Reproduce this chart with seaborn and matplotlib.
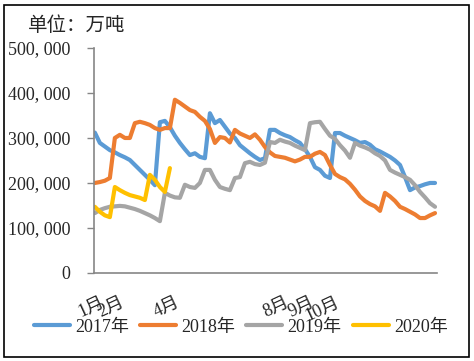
import pandas as pd
import numpy as np
import matplotlib
matplotlib.use("Agg")
import matplotlib.pyplot as plt
import seaborn as sns
from matplotlib.patches import Rectangle
from matplotlib.lines import Line2D

sns.set_style("white")
plt.rcParams["font.family"] = ["Liberation Serif", "Noto Sans CJK SC", "DejaVu Sans"]

# %% Data (万吨), one point per step on the category axis
years = ["2017年", "2018年", "2019年", "2020年"]
colors = ["#5B9BD5", "#ED7D31", "#A5A5A5", "#FFC000"]

v2017 = [312, 289, 281, 273, 268, 262, 257, 251, 240, 229, 218, 207, 195, 335, 338,
         324, 305, 289, 275, 262, 266, 258, 255, 355, 333, 340, 325, 310, 300, 284,
         275, 266, 258, 251, 255, 318, 318, 311, 306, 302, 295, 289, 275, 258, 235,
         229, 216, 211, 311, 311, 305, 300, 295, 289, 291, 285, 275, 270, 264, 258,
         250, 240, 213, 184, 190, 193, 197, 200, 200]
v2018 = [200, 202, 205, 211, 300, 307, 300, 300, 333, 336, 333, 329, 322, 318, 322,
         322, 385, 378, 370, 362, 358, 347, 338, 320, 289, 302, 300, 290, 318, 310,
         305, 300, 308, 296, 280, 268, 260, 258, 256, 252, 248, 252, 258, 258, 265,
         269, 262, 240, 220, 213, 208, 198, 185, 170, 160, 153, 148, 138, 178, 170,
         160, 147, 142, 136, 130, 122, 122, 128, 133]
v2019 = [133, 140, 144, 147, 148, 149, 148, 145, 142, 138, 133, 128, 122, 115, 178,
         172, 168, 167, 196, 191, 189, 200, 229, 229, 207, 191, 187, 184, 211, 213,
         244, 247, 242, 240, 245, 291, 289, 296, 292, 289, 283, 278, 273, 333, 335,
         336, 320, 305, 298, 284, 272, 256, 289, 283, 279, 274, 266, 260, 250, 229,
         223, 218, 213, 207, 195, 180, 168, 155, 147]
v2020 = [147, 136, 128, 124, 191, 184, 178, 173, 170, 167, 162, 218, 207, 191, 180, 233]

tick_pos = [1, 5, 16, 38, 43, 48]
tick_labels = ["1月", "2月", "4月", "8月", "9月", "10月"]

# %% Long-form frame for seaborn
rows = []
for year, vals in zip(years, [v2017, v2018, v2019, v2020]):
    for i, v in enumerate(vals):
        rows.append({"idx": i, "value": v * 1000, "year": year})
df = pd.DataFrame(rows)

# %% Plot
fig = plt.figure(figsize=(4.74, 3.61), dpi=100)
ax = fig.add_axes([0.198, 0.244, 0.724, 0.623])

sns.lineplot(data=df, x="idx", y="value", hue="year", palette=dict(zip(years, colors)),
             estimator=None, linewidth=3, ax=ax, legend=False)

ax.set_xlim(-0.2, 68.4)
ax.set_ylim(0, 500000)
ax.set_yticks(np.arange(0, 500001, 100000))
ax.set_yticklabels([f"{int(t):,}".replace(",", ", ") for t in ax.get_yticks()], fontsize=13)
ax.set_xticks(tick_pos)
ax.set_xticklabels(tick_labels, fontsize=13, rotation=25, ha="right", rotation_mode="anchor")
ax.tick_params(axis="x", length=0, pad=15)
ax.tick_params(axis="y", length=5, width=1, color="#868686", direction="out", pad=12, left=True)
ax.set_xlabel("")
ax.set_ylabel("")

for s in ["top", "right"]:
    ax.spines[s].set_visible(False)
for s in ["left", "bottom"]:
    ax.spines[s].set_color("#868686")
    ax.spines[s].set_linewidth(1.2)

fig.text(0.058, 0.928, "单位：万吨", fontsize=14, family=["Noto Sans CJK SC"], va="center")

handles = [Line2D([0], [0], color=c, lw=3) for c in colors]
fig.legend(handles, years, loc="center", bbox_to_anchor=(0.508, 0.094), ncol=4,
           frameon=False, fontsize=13, handlelength=2.0, handletextpad=0.3,
           columnspacing=0.6)

fig.patches.append(Rectangle((0.008, 0.011), 0.981, 0.975, transform=fig.transFigure,
                             fill=False, ec="black", lw=1.2))

plt.savefig("out.png", dpi=100)
